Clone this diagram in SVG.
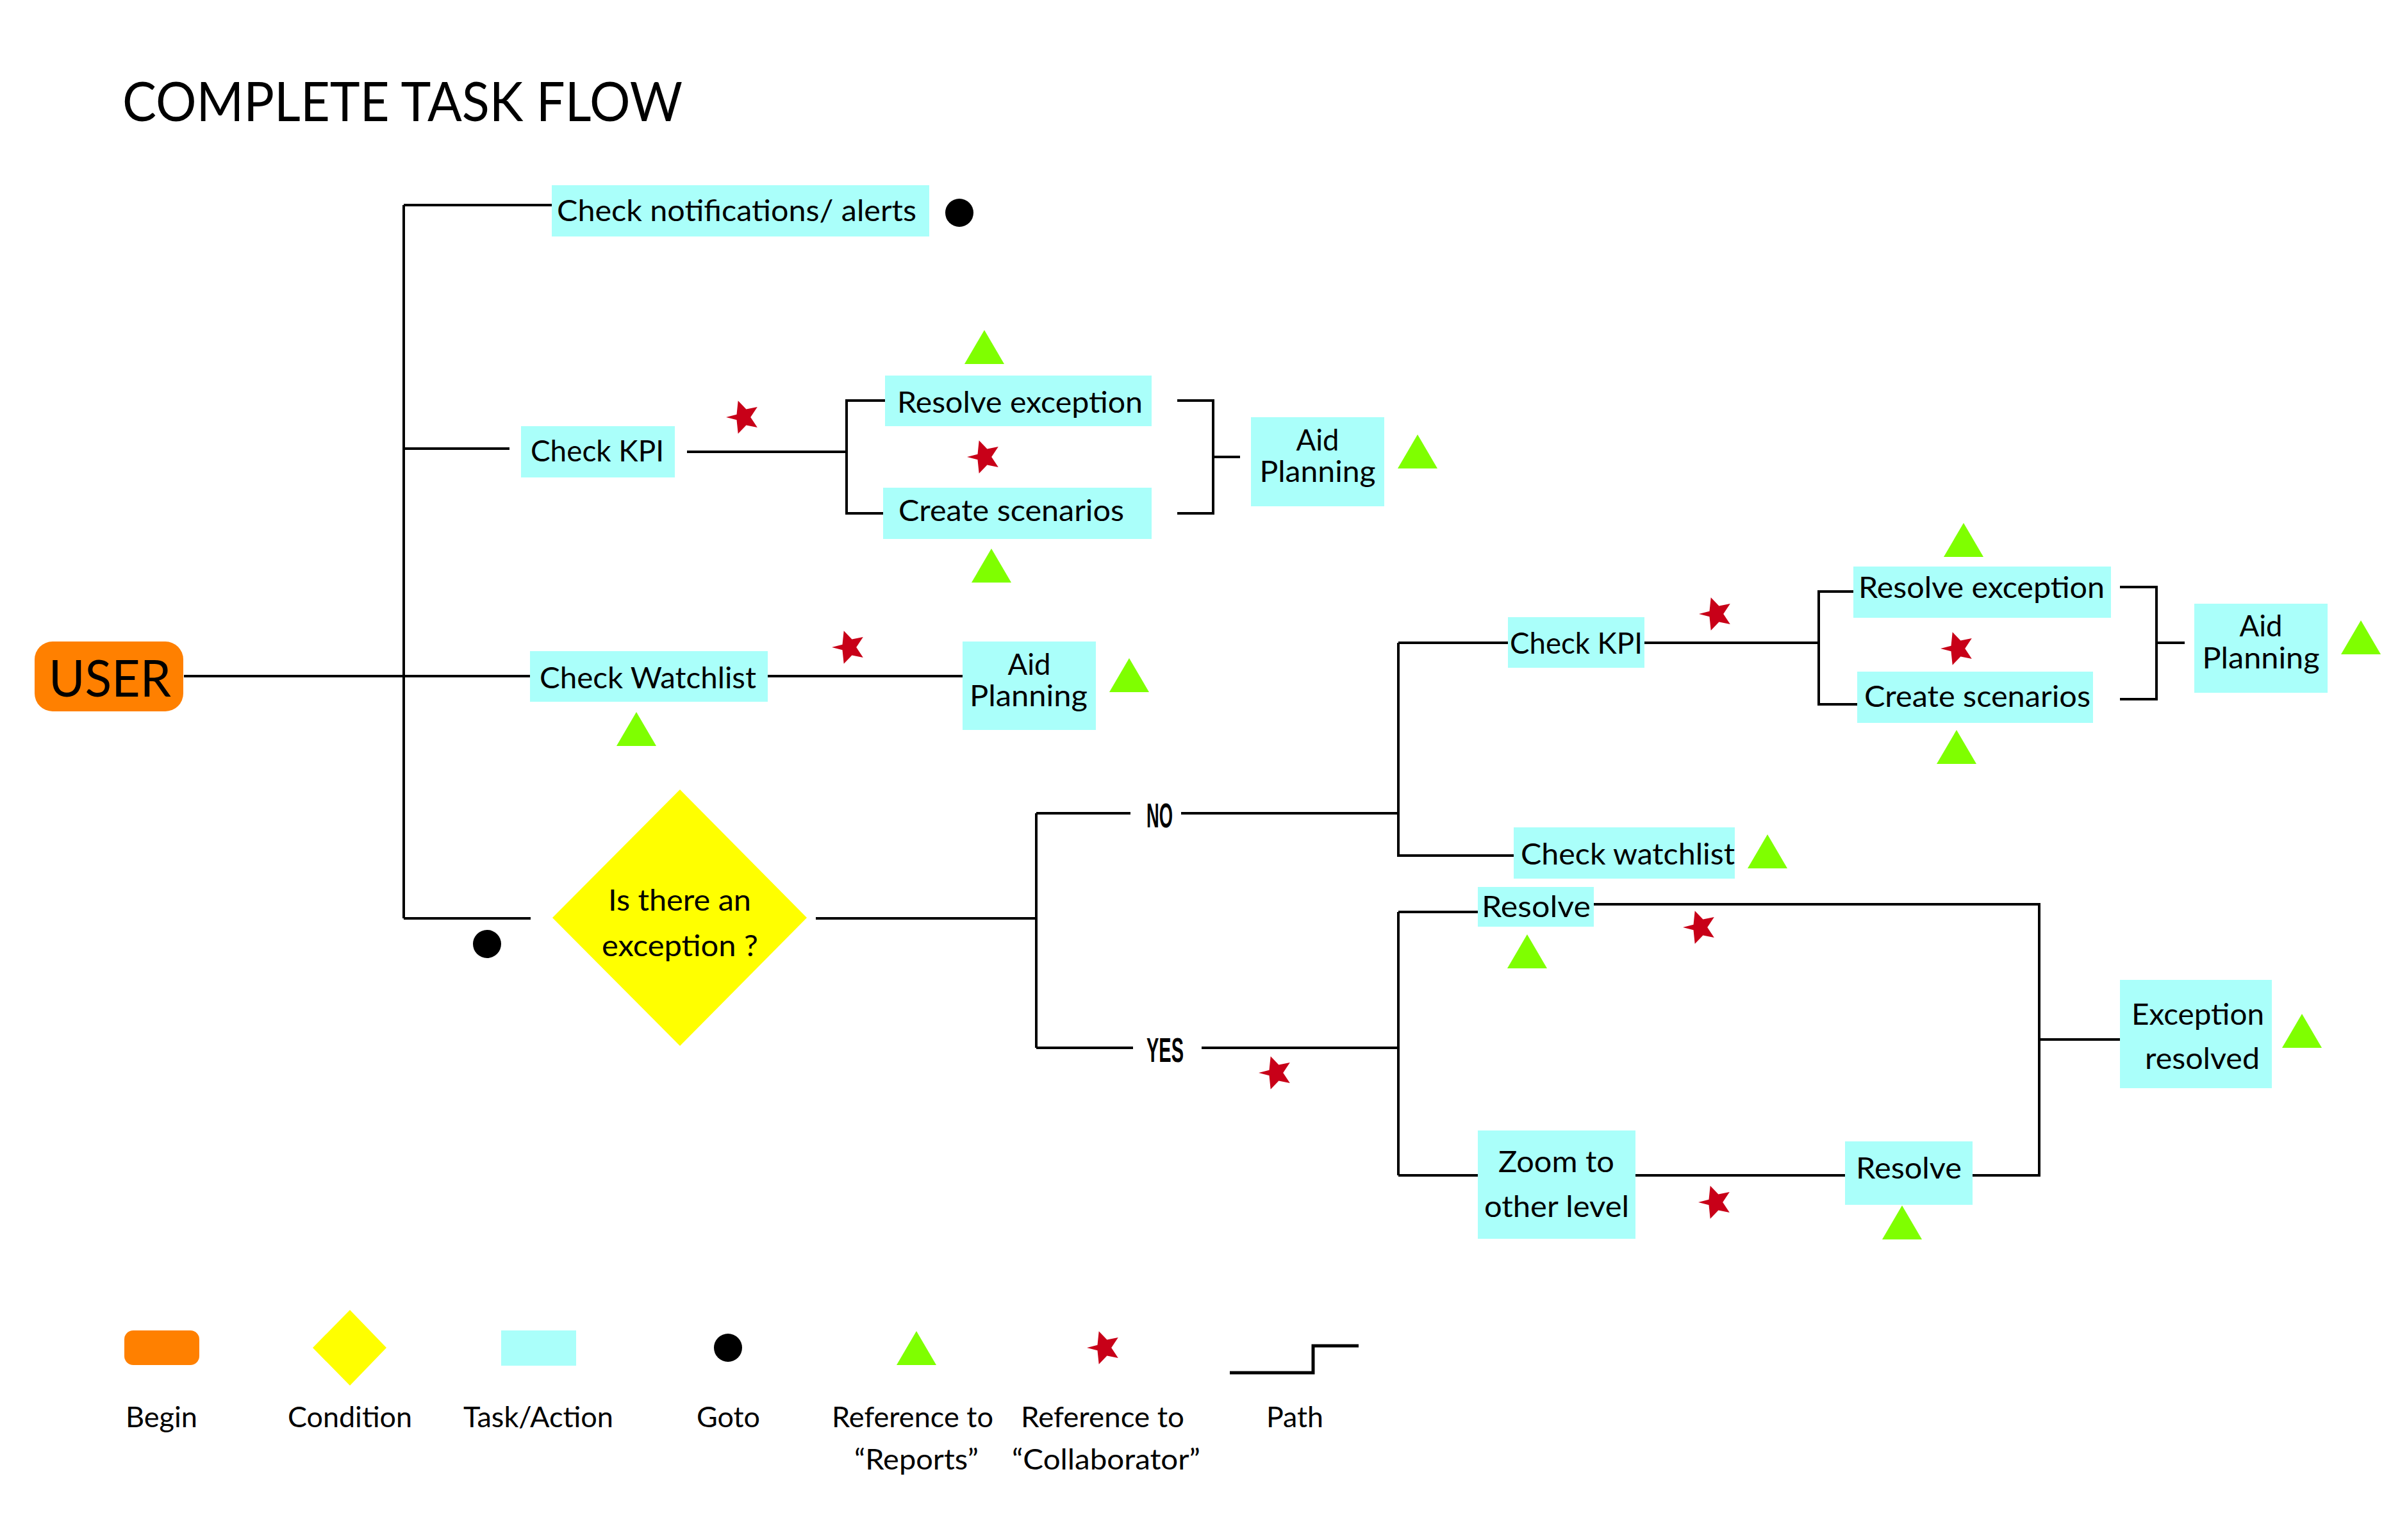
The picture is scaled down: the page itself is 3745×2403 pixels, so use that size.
<svg xmlns="http://www.w3.org/2000/svg" xmlns:xlink="http://www.w3.org/1999/xlink" width="3745" height="2403" viewBox="0 0 3745 2403">
<style>
.t{font-family:Lato,"Liberation Sans",sans-serif;font-size:46px;fill:#000}
.task{fill:#AAFFFA}
.ln{stroke:#000;stroke-width:4;fill:none}
.yn{font-family:"Liberation Sans",sans-serif;font-weight:bold;font-size:53px}
.lg{font-size:44px}
.title{font-size:85px}
.big{font-size:80px}
</style>
<defs>
<path id="star" d="M-27,0 L-10.5,-4.2 L-8.3,-25.7 L4.4,-12.5 L21.8,-15.9 L11.2,0 L21.8,15.9 L4.4,12.5 L-8.3,25.7 L-10.5,4.2 Z" fill="#C80018"/>
<path id="tri" d="M0,0 L31,53 L-31,53 Z" fill="#7FFF00"/>
<circle id="dot" r="22" fill="#000"/>
</defs>
<rect width="3745" height="2403" fill="#fff"/>
<text class="t title" x="191" y="189" textLength="874" lengthAdjust="spacingAndGlyphs">COMPLETE TASK FLOW</text>

<g id="connectors" class="ln">
<path d="M287,1055 H827"/>
<path d="M630,320 V1433"/>
<path d="M630,320 H861"/>
<path d="M630,700 H795"/>
<path d="M630,1433 H828"/>
<path d="M1072,705 H1321"/>
<path d="M1381,625 H1321 V801 H1378"/>
<path d="M1837,625 H1893 V801 H1837"/>
<path d="M1893,713 H1935"/>
<path d="M1198,1055 H1502"/>
<path d="M1273,1433 H1617"/>
<path d="M1617,1269 V1635"/>
<path d="M1617,1269 H1764"/>
<path d="M1843,1269 H2182"/>
<path d="M1617,1635 H1768"/>
<path d="M1875,1635 H2182"/>
<path d="M2182,1003 V1335 H2362"/>
<path d="M2182,1003 H2353"/>
<path d="M2566,1003 H2838"/>
<path d="M2892,923 H2838 V1099 H2898"/>
<path d="M3308,916 H3365 V1091 H3308"/>
<path d="M3365,1003 H3409"/>
<path d="M2182,1423 V1834"/>
<path d="M2182,1423 H2306"/>
<path d="M2487,1411 H3182 V1834 H3078"/>
<path d="M2182,1834 H2306"/>
<path d="M2552,1834 H2879"/>
<path d="M3182,1622 H3308"/>
</g>

<g id="user">
<rect x="54" y="1001" width="232" height="109" rx="28" fill="#FF8000"/>
<text class="t big" x="76" y="1087" textLength="191" lengthAdjust="spacingAndGlyphs">USER</text>
</g>

<g id="check-notifications">
<rect class="task" x="861" y="289" width="589" height="80"/>
<text class="t" x="869" y="345" textLength="561" lengthAdjust="spacingAndGlyphs">Check notifications/ alerts</text>
<use xlink:href="#dot" x="1497" y="332"/>
</g>

<g id="check-kpi-1">
<rect class="task" x="813" y="665" width="240" height="80"/>
<text class="t" x="828" y="720" textLength="208" lengthAdjust="spacingAndGlyphs">Check KPI</text>
<use xlink:href="#star" x="1160" y="651"/>
</g>

<g id="resolve-exception-1">
<rect class="task" x="1381" y="586" width="416" height="79"/>
<text class="t" x="1400" y="644" textLength="383" lengthAdjust="spacingAndGlyphs">Resolve exception</text>
<use xlink:href="#tri" x="1536" y="515"/>
<use xlink:href="#star" x="1536" y="713"/>
</g>

<g id="create-scenarios-1">
<rect class="task" x="1378" y="761" width="419" height="80"/>
<text class="t" x="1402" y="813" textLength="352" lengthAdjust="spacingAndGlyphs">Create scenarios</text>
<use xlink:href="#tri" x="1547" y="856"/>
</g>

<g id="aid-planning-1">
<rect class="task" x="1952" y="651" width="208" height="139"/>
<text class="t" x="2056" y="703" text-anchor="middle" textLength="67" lengthAdjust="spacingAndGlyphs">Aid</text>
<text class="t" x="2056" y="752" text-anchor="middle" textLength="181" lengthAdjust="spacingAndGlyphs">Planning</text>
<use xlink:href="#tri" x="2212" y="678"/>
</g>

<g id="check-watchlist-1">
<rect class="task" x="827" y="1016" width="371" height="79"/>
<text class="t" x="842" y="1074" textLength="338" lengthAdjust="spacingAndGlyphs">Check Watchlist</text>
<use xlink:href="#tri" x="993" y="1111"/>
<use xlink:href="#star" x="1325" y="1010"/>
</g>

<g id="aid-planning-2">
<rect class="task" x="1502" y="1001" width="208" height="138"/>
<text class="t" x="1606" y="1053" text-anchor="middle" textLength="67" lengthAdjust="spacingAndGlyphs">Aid</text>
<text class="t" x="1605" y="1102" text-anchor="middle" textLength="184" lengthAdjust="spacingAndGlyphs">Planning</text>
<use xlink:href="#tri" x="1762" y="1027"/>
</g>

<g id="exception-condition">
<polygon points="1061,1232 1259,1432 1061,1632 862,1432" fill="#FFFF00"/>
<text class="t" x="949" y="1421" textLength="223" lengthAdjust="spacingAndGlyphs">Is there an</text>
<text class="t" x="939" y="1492" textLength="244" lengthAdjust="spacingAndGlyphs">exception ?</text>
<use xlink:href="#dot" x="760" y="1473"/>
</g>

<g id="label-no">
<text class="yn" x="1789" y="1291" textLength="41" lengthAdjust="spacingAndGlyphs">NO</text>
</g>
<g id="label-yes">
<text class="yn" x="1789" y="1657" textLength="58" lengthAdjust="spacingAndGlyphs">YES</text>
<use xlink:href="#star" x="1991" y="1674"/>
</g>

<g id="check-kpi-2">
<rect class="task" x="2353" y="963" width="213" height="79"/>
<text class="t" x="2356" y="1020" textLength="207" lengthAdjust="spacingAndGlyphs">Check KPI</text>
<use xlink:href="#star" x="2678" y="958"/>
</g>

<g id="resolve-exception-2">
<rect class="task" x="2892" y="884" width="402" height="80"/>
<text class="t" x="2900" y="933" textLength="384" lengthAdjust="spacingAndGlyphs">Resolve exception</text>
<use xlink:href="#tri" x="3064" y="816"/>
<use xlink:href="#star" x="3055" y="1012"/>
</g>

<g id="create-scenarios-2">
<rect class="task" x="2898" y="1048" width="368" height="80"/>
<text class="t" x="2909" y="1103" textLength="353" lengthAdjust="spacingAndGlyphs">Create scenarios</text>
<use xlink:href="#tri" x="3053" y="1139"/>
</g>

<g id="aid-planning-3">
<rect class="task" x="3424" y="942" width="208" height="139"/>
<text class="t" x="3528" y="993" text-anchor="middle" textLength="67" lengthAdjust="spacingAndGlyphs">Aid</text>
<text class="t" x="3528" y="1043" text-anchor="middle" textLength="183" lengthAdjust="spacingAndGlyphs">Planning</text>
<use xlink:href="#tri" x="3684" y="968"/>
</g>

<g id="check-watchlist-2">
<rect class="task" x="2362" y="1291" width="345" height="80"/>
<text class="t" x="2373" y="1349" textLength="334" lengthAdjust="spacingAndGlyphs">Check watchlist</text>
<use xlink:href="#tri" x="2758" y="1302"/>
</g>

<g id="resolve-1">
<rect class="task" x="2306" y="1384" width="181" height="62"/>
<text class="t" x="2312" y="1431" textLength="170" lengthAdjust="spacingAndGlyphs">Resolve</text>
<use xlink:href="#tri" x="2383" y="1458"/>
<use xlink:href="#star" x="2653" y="1447"/>
</g>

<g id="exception-resolved">
<rect class="task" x="3308" y="1529" width="237" height="169"/>
<text class="t" x="3326" y="1599" textLength="207" lengthAdjust="spacingAndGlyphs">Exception</text>
<text class="t" x="3347" y="1668" textLength="179" lengthAdjust="spacingAndGlyphs">resolved</text>
<use xlink:href="#tri" x="3592" y="1582"/>
</g>

<g id="zoom-other-level">
<rect class="task" x="2306" y="1764" width="246" height="169"/>
<text class="t" x="2338" y="1829" textLength="181" lengthAdjust="spacingAndGlyphs">Zoom to</text>
<text class="t" x="2316" y="1899" textLength="226" lengthAdjust="spacingAndGlyphs">other level</text>
<use xlink:href="#star" x="2677" y="1876"/>
</g>

<g id="resolve-2">
<rect class="task" x="2879" y="1781" width="199" height="99"/>
<text class="t" x="2896" y="1839" textLength="165" lengthAdjust="spacingAndGlyphs">Resolve</text>
<use xlink:href="#tri" x="2968" y="1881"/>
</g>

<g id="legend">
<rect x="194" y="2076" width="117" height="54" rx="14" fill="#FF8000"/>
<polygon points="546,2044 603,2103 546,2162 488,2103" fill="#FFFF00"/>
<rect class="task" x="782" y="2076" width="117" height="55"/>
<use xlink:href="#dot" x="1136" y="2103"/>
<use xlink:href="#tri" x="1430" y="2077"/>
<use xlink:href="#star" x="1723" y="2103"/>
<path d="M1919,2142 H2049 V2100 H2120" stroke="#000" stroke-width="5" fill="none"/>
<text class="t lg" x="196" y="2227" textLength="112" lengthAdjust="spacingAndGlyphs">Begin</text>
<text class="t lg" x="449" y="2227" textLength="194" lengthAdjust="spacingAndGlyphs">Condition</text>
<text class="t lg" x="723" y="2227" textLength="234" lengthAdjust="spacingAndGlyphs">Task/Action</text>
<text class="t lg" x="1087" y="2227" textLength="99" lengthAdjust="spacingAndGlyphs">Goto</text>
<text class="t lg" x="1298" y="2227" textLength="252" lengthAdjust="spacingAndGlyphs">Reference to</text>
<text class="t lg" x="1333" y="2293" textLength="194" lengthAdjust="spacingAndGlyphs">“Reports”</text>
<text class="t lg" x="1593" y="2227" textLength="255" lengthAdjust="spacingAndGlyphs">Reference to</text>
<text class="t lg" x="1579" y="2293" textLength="294" lengthAdjust="spacingAndGlyphs">“Collaborator”</text>
<text class="t lg" x="1976" y="2227" textLength="89" lengthAdjust="spacingAndGlyphs">Path</text>
</g>
</svg>
